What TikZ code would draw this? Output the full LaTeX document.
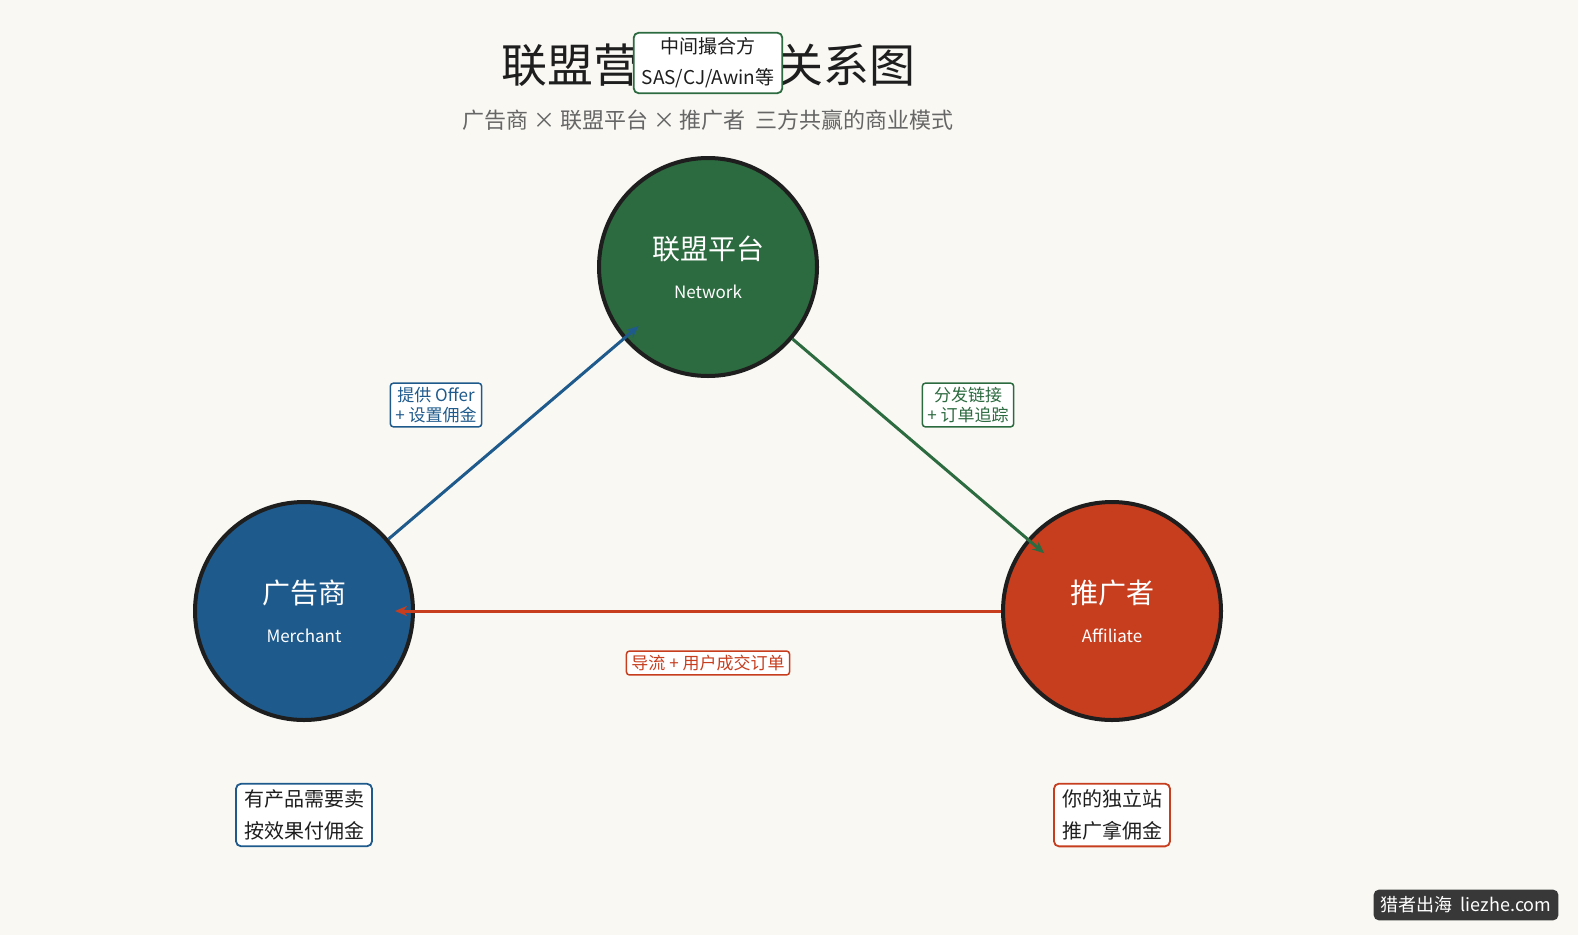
\documentclass[tikz,border=0pt]{standalone}
\usepackage{fontspec}
\setmainfont{Noto Sans CJK SC}
\usetikzlibrary{arrows.meta}
\definecolor{bg}{HTML}{F9F8F3}
\definecolor{cblue}{HTML}{1F5A8C}
\definecolor{cgreen}{HTML}{2C6A3F}
\definecolor{cred}{HTML}{C73E1F}
\definecolor{cdark}{HTML}{1E1E1E}
\tikzset{
  party/.style={circle,draw=cdark,line width=4pt,minimum size=218pt,inner sep=0pt,text=white,align=center},
  lbl/.style={draw=#1,text=#1,fill=white,rounded corners=3pt,line width=1.5pt,font=\fontsize{17}{20}\selectfont,align=center,inner xsep=5pt,inner ysep=4pt},
  note/.style={draw=#1,text=cdark,fill=white,rounded corners=5pt,line width=1.8pt,font=\fontsize{20}{32}\selectfont,align=center,inner xsep=8pt,inner ysep=6pt},
  conn/.style={line width=3pt,-{Stealth[length=12pt,width=10pt]}}
}
\begin{document}
\begin{tikzpicture}[x=1pt,y=-1pt]
\fill[bg] (0,0) rectangle (1578,935);
\useasboundingbox (0,0) rectangle (1578,935);
\node (title) at (708,65) {\fontsize{46}{50}\selectfont\color{cdark}联盟营销三方关系图};
\node (sub) at (708,120) {\fontsize{22}{26}\selectfont\color{black!60}广告商 × 联盟平台 × 推广者\ \ 三方共赢的商业模式};
\node[note=cgreen,font=\fontsize{19}{31}\selectfont,inner xsep=8pt,inner ysep=5pt] (mid) at (708,63) {中间撮合方\\SAS/CJ/Awin等};
\node[party,fill=cgreen] (net) at (708,267) {\fontsize{28}{32}\selectfont 联盟平台\\[22pt]\fontsize{17}{20}\selectfont Network};
\node[party,fill=cblue] (mer) at (304,611) {\fontsize{28}{32}\selectfont 广告商\\[22pt]\fontsize{17}{20}\selectfont Merchant};
\node[party,fill=cred] (aff) at (1112,611) {\fontsize{28}{32}\selectfont 推广者\\[22pt]\fontsize{17}{20}\selectfont Affiliate};
\draw[conn,cblue,shorten >=-20pt] (mer) -- (net);
\draw[conn,cgreen,shorten >=-22pt] (net) -- (aff);
\draw[conn,cred,shorten >=-20pt] (aff) -- (mer);
\node[lbl=cblue] (l1) at (436,405) {提供 Offer\\+ 设置佣金};
\node[lbl=cgreen] (l2) at (968,405) {分发链接\\+ 订单追踪};
\node[lbl=cred] (l3) at (708,663) {导流 + 用户成交订单};
\node[note=cblue] (n1) at (304,815) {有产品需要卖\\按效果付佣金};
\node[note=cred] (n2) at (1112,815) {你的独立站\\推广拿佣金};
\node[fill=black!78,text=white,rounded corners=5pt,font=\fontsize{18}{20}\selectfont,inner sep=7pt] (wm) at (1466,905) {猎者出海\ \ liezhe.com};
\end{tikzpicture}
\end{document}
